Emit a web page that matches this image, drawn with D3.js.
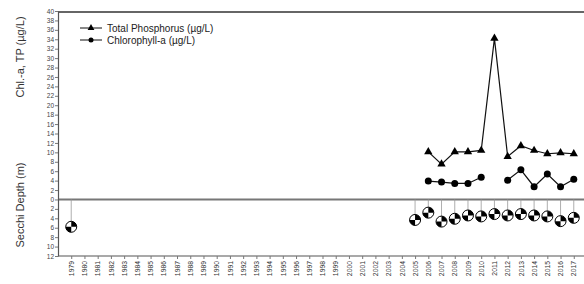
<!DOCTYPE html>
<html>
<head>
<meta charset="utf-8">
<script src="https://cdn.jsdelivr.net/npm/d3@7"></script>
<style>
body { margin: 0; background: #fff; }
svg { font-family: "Liberation Sans", Arial, sans-serif; }
</style>
</head>
<body>
<div class="chart"></div>
<script>
const years = d3.range(1979, 2018);
const tpYears = [2006, 2007, 2008, 2009, 2010, 2011, 2012, 2013, 2014, 2015, 2016, 2017];
const tpValues = [10.1, 7.5, 10.1, 10.1, 10.4, 34.2, 9.1, 11.4, 10.4, 9.7, 9.9, 9.7];
const chlYears = [2006, 2007, 2008, 2009, 2010, 2011, 2012, 2013, 2014, 2015, 2016, 2017];
const chlValues = [3.9, 3.7, 3.4, 3.4, 4.7, null, 4.1, 6.3, 2.7, 5.4, 2.7, 4.3];
const secchiYears = [1979, 2005, 2006, 2007, 2008, 2009, 2010, 2011, 2012, 2013, 2014, 2015, 2016, 2017];
const secchiDepth = [5.8, 4.35, 2.8, 4.7, 4.1, 3.4, 3.6, 3.1, 3.4, 3.1, 3.4, 3.6, 4.6, 3.9];
const yTicks = [-12, -10, -8, -6, -4, -2, 0, 2, 4, 6, 8, 10, 12, 14, 16, 18, 20, 22, 24, 26, 28, 30, 32, 34, 36, 38, 40];

const svg_width = 584, svg_height = 284;
const m_left = 58, m_top = 11, m_bottom = 256, m_right = 587;

const svg = d3.select('.chart').append('svg')
    .attr('width', svg_width).attr('height', svg_height);

const x = d3.scalePoint().domain(years).range([m_left, m_right]).padding(1);
const y = d3.scaleLinear().domain([-12, 40]).range([m_bottom, m_top]);

// frame: top line
svg.append('line')
    .attr('x1', m_left).attr('x2', svg_width).attr('y1', y(40) + 1).attr('y2', y(40) + 1)
    .attr('stroke', '#333').attr('stroke-width', 1.5);

// zero line
svg.append('line')
    .attr('x1', m_left).attr('x2', svg_width).attr('y1', y(0)).attr('y2', y(0))
    .attr('stroke', '#777').attr('stroke-width', 2);

// y axis
const yAxis = d3.axisLeft(y).tickValues(yTicks)
    .tickFormat(d => Math.abs(d)).tickSizeInner(3).tickSizeOuter(0);
const yG = svg.append('g').attr('transform', `translate(${m_left},0)`).call(yAxis);
yG.select('.domain').attr('stroke', '#555').attr('stroke-width', 1.2);
yG.selectAll('.tick line').attr('stroke', '#777');
yG.selectAll('.tick text').attr('font-size', 6.5).attr('fill', '#444').attr('x', -4);

// x axis
const xAxis = d3.axisBottom(x).tickSizeInner(3).tickSizeOuter(0);
const xG = svg.append('g').attr('transform', `translate(0,${m_bottom})`).call(xAxis);
xG.select('.domain').attr('stroke', '#555').attr('stroke-width', 1.2)
    .attr('d', `M${m_left},0H${svg_width}`);
xG.selectAll('.tick line').attr('stroke', '#777');
xG.selectAll('.tick text')
    .attr('font-size', 6.8).attr('fill', '#333')
    .attr('transform', 'rotate(-90)')
    .attr('x', -5).attr('y', 0).attr('dy', '0.32em')
    .style('text-anchor', 'end');

// axis titles
svg.append('text')
    .attr('transform', 'translate(24,57) rotate(-90)')
    .attr('text-anchor', 'middle').attr('font-size', 11).attr('fill', '#333')
    .text('Chl.-a, TP (µg/L)');
svg.append('text')
    .attr('transform', 'translate(24,205) rotate(-90)')
    .attr('text-anchor', 'middle').attr('font-size', 11).attr('fill', '#333')
    .text('Secchi Depth (m)');

// TP line
const tpData = tpYears.map((d, i) => ({year: d, v: tpValues[i]}));
const line = d3.line().defined(d => d.v != null).x(d => x(d.year)).y(d => y(d.v));
svg.append('path').datum(tpData)
    .attr('d', line).attr('fill', 'none').attr('stroke', '#111').attr('stroke-width', 1.2);
const tri = d3.symbol().type(d3.symbolTriangle).size(30);
svg.selectAll('.tp').data(tpData).enter().append('path')
    .attr('class', 'tp')
    .attr('transform', d => `translate(${x(d.year)},${y(d.v)})`)
    .attr('d', tri).attr('fill', '#000');

// Chl-a line
const chlData = chlYears.map((d, i) => ({year: d, v: chlValues[i]}));
svg.append('path').datum(chlData)
    .attr('d', line).attr('fill', 'none').attr('stroke', '#111').attr('stroke-width', 1.2);
svg.selectAll('.chl').data(chlData.filter(d => d.v != null)).enter().append('circle')
    .attr('class', 'chl')
    .attr('cx', d => x(d.year)).attr('cy', d => y(d.v))
    .attr('r', 3.5).attr('fill', '#000');

// Secchi disks
const secchiData = secchiYears.map((d, i) => ({year: d, v: secchiDepth[i]}));
svg.selectAll('.drop').data(secchiData).enter().append('line')
    .attr('x1', d => x(d.year)).attr('x2', d => x(d.year))
    .attr('y1', y(0)).attr('y2', d => y(-d.v))
    .attr('stroke', '#999').attr('stroke-width', 0.8);
const r = 5.5;
const arc = d3.arc().innerRadius(0).outerRadius(r);
const disks = svg.selectAll('.disk').data(secchiData).enter().append('g')
    .attr('class', 'disk')
    .attr('transform', d => `translate(${x(d.year)},${y(-d.v)})`);
disks.append('circle').attr('r', r).attr('fill', '#fff');
disks.append('path').attr('d', arc({startAngle: 0, endAngle: Math.PI / 2})).attr('fill', '#000');
disks.append('path').attr('d', arc({startAngle: Math.PI, endAngle: Math.PI * 1.5})).attr('fill', '#000');
disks.append('circle').attr('r', r).attr('fill', 'none').attr('stroke', '#000').attr('stroke-width', 1);

// legend
const legend = svg.append('g').attr('transform', 'translate(80,28)');
legend.append('line').attr('x1', 0).attr('x2', 22).attr('y1', 0).attr('y2', 0).attr('stroke', '#111');
legend.append('path').attr('transform', 'translate(11,0)').attr('d', d3.symbol().type(d3.symbolTriangle).size(20)).attr('fill', '#000');
legend.append('text').attr('x', 27).attr('y', 0).attr('dy', '0.35em').attr('font-size', 10).attr('fill', '#222')
    .text('Total Phosphorus (µg/L)');
legend.append('line').attr('x1', 0).attr('x2', 22).attr('y1', 12).attr('y2', 12).attr('stroke', '#111');
legend.append('circle').attr('cx', 11).attr('cy', 12).attr('r', 2.5).attr('fill', '#000');
legend.append('text').attr('x', 27).attr('y', 12).attr('dy', '0.35em').attr('font-size', 10).attr('fill', '#222')
    .text('Chlorophyll-a (µg/L)');
</script>
</body>
</html>
